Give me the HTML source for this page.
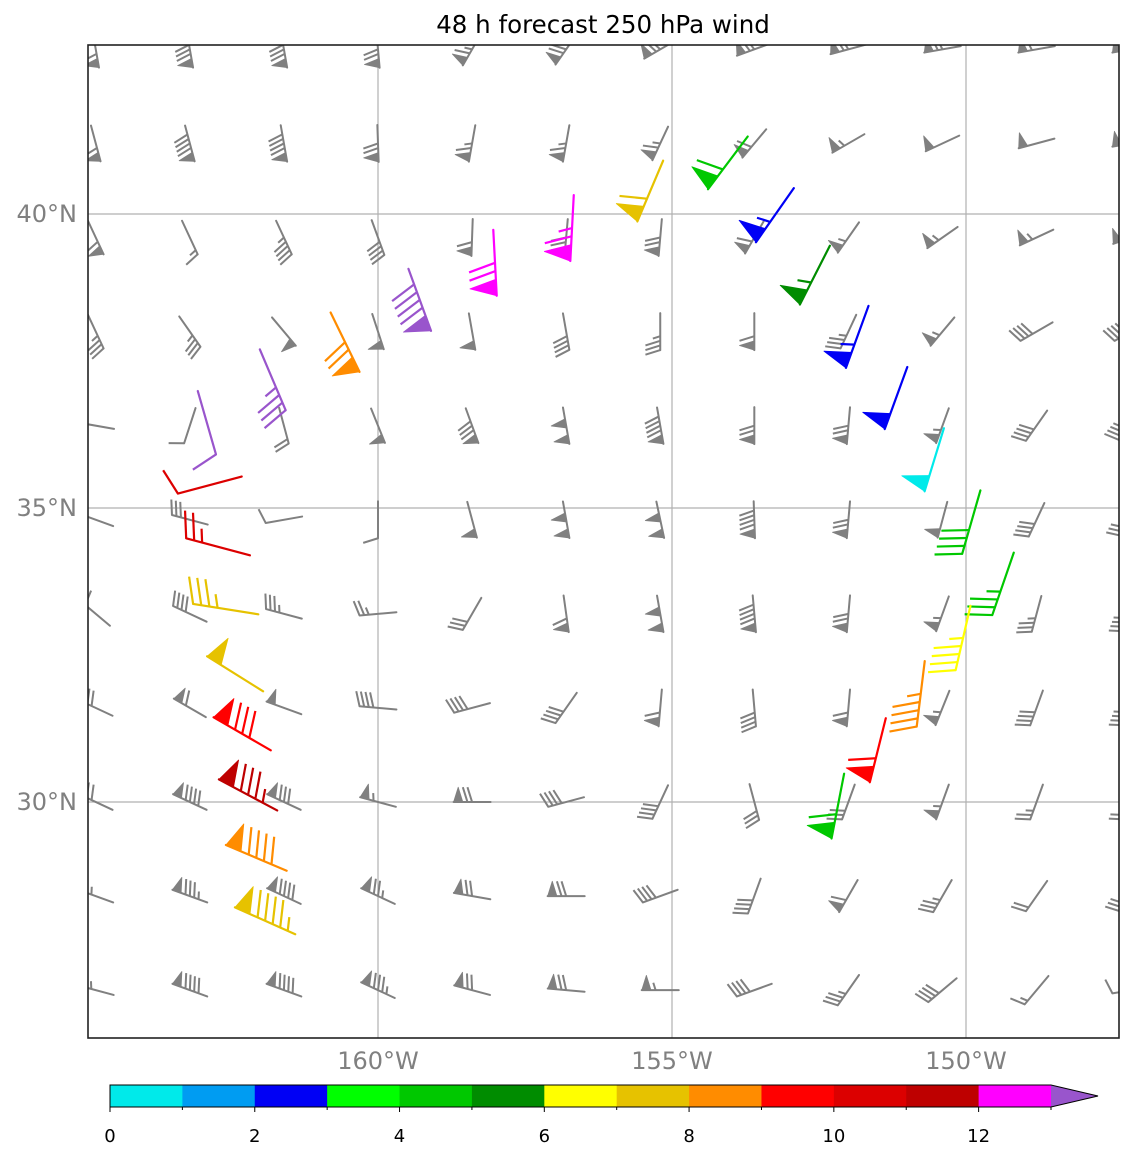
<!DOCTYPE html>
<html><head><meta charset="utf-8"><title>48 h forecast 250 hPa wind</title>
<style>
html,body{margin:0;padding:0;background:#fff;}
svg{display:block;font-family:"DejaVu Sans","Liberation Sans",sans-serif;}
</style></head>
<body>
<svg id="chart" width="1134" height="1157" viewBox="0 0 1134 1157" xmlns="http://www.w3.org/2000/svg">
  <defs><clipPath id="axclip"><rect x="88" y="45" width="1031" height="993"/></clipPath></defs>
  <rect x="0" y="0" width="1134" height="1157" fill="#fff"/>
  <text x="603" y="33" text-anchor="middle" font-size="24.5" fill="#000">48 h forecast 250 hPa wind</text>
  <g id="grid"></g>
  <g id="barbs" clip-path="url(#axclip)"></g>
  <g id="traj" clip-path="url(#axclip)"></g>
  <rect x="88" y="45" width="1031" height="993" fill="none" stroke="#222" stroke-width="1.6"/>
  <g id="axlabels"></g>
  <g id="cbar"></g>
</svg>
<script>
// ---- data ----
const gridLons = [-164.8,-163.2,-161.6,-160.0,-158.4,-156.8,-155.2,-153.6,-152.0,-150.4,-148.8,-147.2];
const gridLats = [42.8,41.2,39.6,38.0,36.4,34.8,33.2,31.6,30.0,28.4,26.8];
// staff direction (screen degrees, toward flag end) per row
const gridDir = [
 [80,80,80,85,120,125,150,160,165,170,170,170],
 [75,75,80,88,100,100,115,130,150,155,165,170],
 [65,65,65,70,92,95,95,120,125,145,155,160],
 [65,55,50,72,80,80,90,90,115,130,150,150],
 [190,108,75,68,70,80,80,90,95,110,125,130],
 [200,195,170,90,75,80,78,88,95,105,115,120],
 [220,205,195,175,120,82,80,85,95,110,105,110],
 [205,210,200,185,165,125,95,85,95,112,110,110],
 [205,205,205,195,180,165,115,75,110,110,110,110],
 [200,200,205,205,190,180,160,110,120,120,125,125],
 [195,200,200,205,195,185,180,160,125,140,130,170]
];
// wind speed (kt) per row
const gridSpd = [
 [60,80,80,70,65,70,70,70,65,70,60,60],
 [60,90,90,70,65,65,65,60,55,50,50,50],
 [60,15,45,40,60,70,70,60,55,55,55,50],
 [35,35,50,50,50,40,35,60,35,55,40,40],
 [2,10,20,50,80,100,90,70,70,55,40,40],
 [20,30,10,10,50,100,100,90,70,50,40,30],
 [20,40,35,25,30,60,100,90,70,55,35,40],
 [40,60,50,40,40,40,60,40,60,55,40,40],
 [60,90,80,55,70,40,40,30,30,55,25,25],
 [55,85,90,75,70,70,40,40,60,35,20,30],
 [55,90,90,85,70,70,55,40,35,40,15,10]
];
const trajLon = [-162.91,-161.79,-159.29,-160.56,-158.01,-156.70,-155.37,-154.05,-153.25,-152.57,-151.85,-151.19,-150.54,-149.91,-149.37,-150.05,-150.77,-151.50,-152.18,-162.86,-162.72,-162.59,-162.43,-162.31,-162.21,-162.07,-161.92];
const trajLat = [36.45,37.18,38.54,37.82,39.17,39.76,40.39,40.87,39.98,38.96,37.91,36.87,35.82,34.76,33.71,32.79,31.84,30.88,29.93,35.39,34.34,33.28,32.18,31.16,30.12,29.05,27.98];
const trajDir = [74,67,70,64,87,93,113,127,125,117,110,110,107,106,109,103,97,104,101,165,195,189,212,210,208,203,204];
const trajSpd = [10,35,90,70,70,65,60,60,55,55,55,50,50,40,35,45,45,60,60,10,25,35,50,80,85,90,95];
const trajVal = [13.5,13.5,13.5,8.5,12.5,12.5,7.5,4.5,2.5,5.5,2.5,2.5,0.5,4.5,4.5,6.5,8.5,9.5,4.5,10.5,10.5,7.5,7.5,9.5,11.5,8.5,7.5];
const cbarColors = ['#00eaea','#009cf2','#0000f5','#00ff00','#00c800','#008c00','#ffff00','#e6c200','#ff8c00','#ff0000','#dc0000','#be0000','#ff00ff'];
const cbarOver = '#9955cc';
const cbarTicks = [0,2,4,6,8,10,12];
const xTickLons = [-160,-155,-150];
const xTickLabels = ['160°W','155°W','150°W'];
const yTickLats = [40,35,30];
const yTickLabels = ['40°N','35°N','30°N'];

// ---- axis functions ----
const PX = 58.8;
const xOf = lon => 378 + (lon + 160) * PX;
const yOf = lat => 214 - (lat - 40) * PX;
const NS = 'http://www.w3.org/2000/svg';
function mk(tag, attrs, parent){
  const e = document.createElementNS(NS, tag);
  for (const k in attrs) e.setAttribute(k, attrs[k]);
  parent.appendChild(e); return e;
}
function colorFor(v){ return v >= 13 ? cbarOver : cbarColors[Math.max(0, Math.floor(v))]; }

const gG = document.getElementById('grid');
const gL = document.getElementById('axlabels');
xTickLons.forEach((lon, i) => {
  const l = mk('line', {x1:xOf(lon), x2:xOf(lon), y1:45, y2:1038, stroke:'#b0b0b0', 'stroke-width':1.2}, gG);
  
  
  const t = mk('text', {x:xOf(lon), y:1069, 'text-anchor':'middle', 'font-size':24, fill:'#808080'}, gL);
  t.textContent = xTickLabels[i];
  
  
});
yTickLats.forEach((lat, i) => {
  const l = mk('line', {x1:88, x2:1119, y1:yOf(lat), y2:yOf(lat), stroke:'#b0b0b0', 'stroke-width':1.2}, gG);
  
  
  const t = mk('text', {x:77, y:yOf(lat) + 8, 'text-anchor':'end', 'font-size':24, fill:'#808080'}, gL);
  t.textContent = yTickLabels[i];
  
  
});

function barb(parent, cx, cy, angDeg, spd, L, color, sw){
  const g = mk('g', {}, parent);
  const a = angDeg * Math.PI / 180;
  const dx = Math.cos(a), dy = Math.sin(a);
  const px = -dy, py = dx;
  const ex = cx + dx * L / 2, ey = cy + dy * L / 2;
  const tx = cx - dx * L / 2, ty = cy - dy * L / 2;
  const h = 0.4 * L, w = 0.25 * L, s = 0.125 * L;
  let n = Math.round(spd / 5) * 5;
  const flags = Math.floor(n / 50); n -= flags * 50;
  const full = Math.floor(n / 10); n -= full * 10;
  const half = n >= 5;
  mk('line', {x1:tx, y1:ty, x2:ex, y2:ey, stroke:color, 'stroke-width':sw, 'stroke-linecap':'round'}, g);
  let off = 0;
  const P = o => [ex - dx * o, ey - dy * o];
  for (let i = 0; i < flags; i++){
    if (off > 0) off += s / 2;
    const [ax, ay] = P(off);
    const bx = ax + px * h - dx * w / 2, by = ay + py * h - dy * w / 2;
    const [cx2, cy2] = P(off + w);
    mk('polygon', {points:`${ax},${ay} ${bx},${by} ${cx2},${cy2}`, fill:color, stroke:color, 'stroke-width':0.8, 'stroke-linejoin':'round'}, g);
    off += w + s;
  }
  for (let i = 0; i < full; i++){
    const [ax, ay] = P(off);
    mk('line', {x1:ax, y1:ay, x2:ax + px * h + dx * w / 2, y2:ay + py * h + dy * w / 2, stroke:color, 'stroke-width':sw, 'stroke-linecap':'butt'}, g);
    off += s;
  }
  if (half){
    if (off === 0) off = 1.5 * s;
    const [ax, ay] = P(off);
    mk('line', {x1:ax, y1:ay, x2:ax + px * h / 2 + dx * w / 4, y2:ay + py * h / 2 + dy * w / 4, stroke:color, 'stroke-width':sw, 'stroke-linecap':'butt'}, g);
  }
  return g;
}

const gB = document.getElementById('barbs');
gridLats.forEach((lat, r) => {
  gridLons.forEach((lon, c) => {
    const b = barb(gB, xOf(lon), yOf(lat), gridDir[r][c], gridSpd[r][c], 37, '#808080', 2);
    
    
  });
});
const gT = document.getElementById('traj');
trajLon.forEach((lon, i) => {
  const b = barb(gT, xOf(lon), yOf(trajLat[i]), trajDir[i], trajSpd[i], 66, colorFor(trajVal[i]), 2.2);
  
  
});

const gC = document.getElementById('cbar');
const cbX0 = 110, cbX1 = 1051, cbY = 1085, cbH = 22;
const cbW = (cbX1 - cbX0) / cbarColors.length;
const cxOf = v => cbX0 + v * cbW;
cbarColors.forEach((col, i) => {
  const r = mk('rect', {x:cxOf(i), y:cbY, width:cbW + 0.5, height:cbH, fill:col}, gC);
  
  
});
const ext = mk('polygon', {points:`${cbX1},${cbY} ${cbX1 + 47},${cbY + cbH / 2} ${cbX1},${cbY + cbH}`, fill:cbarOver}, gC);


const outline = mk('polygon', {points:`${cbX0},${cbY} ${cbX1},${cbY} ${cbX1 + 47},${cbY + cbH / 2} ${cbX1},${cbY + cbH} ${cbX0},${cbY + cbH}`, fill:'none', stroke:'#000', 'stroke-width':1}, gC);


for (let v = 0; v <= 13; v++){
  const tk = mk('line', {x1:cxOf(v), x2:cxOf(v), y1:cbY + cbH, y2:cbY + cbH + (v % 2 === 0 ? 5 : 3), stroke:'#000', 'stroke-width':1}, gC);
  
  
}
cbarTicks.forEach(v => {
  const t = mk('text', {x:cxOf(v), y:1142, 'text-anchor':'middle', 'font-size':18, fill:'#000'}, gC);
  t.textContent = String(v);
  
  
});
</script>
</body></html>
